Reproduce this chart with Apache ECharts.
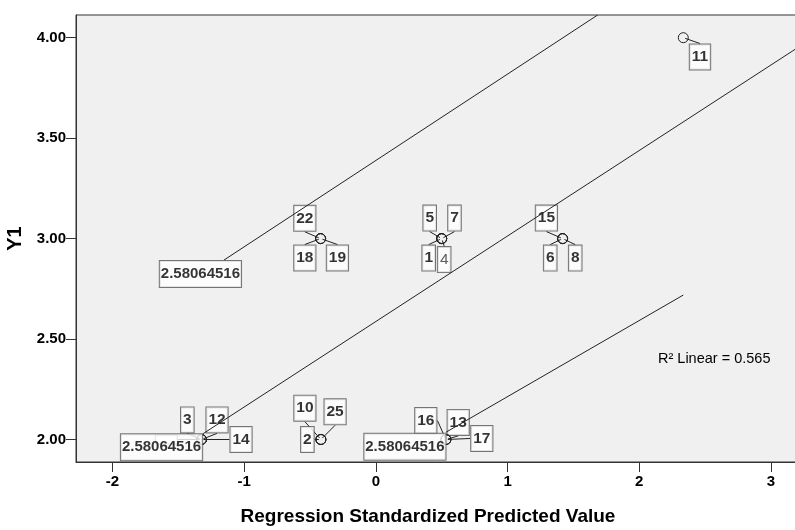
<!DOCTYPE html>
<html>
<head>
<meta charset="utf-8">
<script src="https://cdn.jsdelivr.net/npm/echarts@6/dist/echarts.min.js"></script>
<style>
html,body{margin:0;padding:0;background:#fff;}
#chart{width:795px;height:530px;}
</style>
</head>
<body>
<div id="chart"></div>
<script>
// ---------- data ----------
const caseLabels      = ['22','18','19','5','7','1','4','15','6','8','11','10','25','2','3','12','14','','16','13','17'];
const predictedValues = [-0.419,-0.419,-0.419, 0.500,0.500,0.500,0.500, 1.418,1.418,1.418, 2.334, -0.417,-0.417,-0.417, -1.323,-1.323,-1.323,-1.323, 0.532,0.532,0.532];
const y1Values        = [3,3,3, 3,3,3,3, 3,3,3, 4, 2,2,2, 2,2,2,2, 2,2,2];

const upperLineX = [-1.153, 1.684];
const upperLineY = [2.893, 4.113];
const fitLineX   = [-1.311, 3.22];
const fitLineY   = [2.029, 3.958];
const lowerLineX = [0.532, 2.334];
const lowerLineY = [2.036, 2.719];
const lineLabelText = '2.58064516';

const xTicks = [-2, -1, 0, 1, 2, 3];
const yTicks = [2.0, 2.5, 3.0, 3.5, 4.0];
const xRange = [-2.276, 3.22];
const yRange = [1.888, 4.113];

const xTitle = 'Regression Standardized Predicted Value';
const yTitle = 'Y1';
const r2Text = 'R² Linear = 0.565';

// ---------- layout / style ----------
const FONT = '"Liberation Sans", Arial, sans-serif';
const INK = '#222';
const PLOT_BG = '#F0F0F0';
const pointLabelOffsets = [
  [-15.8,-20.3],[-15.8,19.4],[16.8,19.4],
  [-12,-20.5],[12.8,-20.5],[-13,19.5],[2.5,21],
  [-16.2,-20.5],[-12.4,19.5],[12.6,19.5],
  [16.7,19.3],
  [-16,-31.3],[14.2,-27.7],[-13.5,0],
  [-14.2,-19.6],[15.5,-19.6],[39.5,0],[-35.2,0],
  [-20.1,-19],[12.3,-17.1],[35.9,-1]
];
const lineLabelOffsets = [[-23.5,14],[-41.6,13.5],[-41,14.5]];

const pointData = caseLabels.map((c, i) => {
  const item = { value: [predictedValues[i], y1Values[i]], name: c };
  if (c === '4') item.label = { fontWeight: 'normal', color: '#333' };
  if (c === '') item.label = { width: 17 };
  return item;
});

const pairs = (xs, ys) => xs.map((x, i) => [x, ys[i]]);
const lineStarts = [
  [upperLineX[0], upperLineY[0]],
  [fitLineX[0], fitLineY[0]],
  [lowerLineX[0], lowerLineY[0]]
];

const boxLabel = {
  show: true,
  position: 'inside',
  fontFamily: FONT,
  fontSize: 15.5,
  fontWeight: 'bold',
  color: '#000',
  backgroundColor: '#fff',
  borderColor: '#555',
  borderWidth: 1,
  padding: [5, 2, 3, 2],
  lineHeight: 17
};

const lineSeries = (xs, ys) => ({
  type: 'line',
  data: pairs(xs, ys),
  symbol: 'none',
  silent: true,
  z: 5,
  lineStyle: { color: INK, width: 1 },
  clip: true
});

const chart = echarts.init(document.getElementById('chart'));
chart.setOption({
  animation: false,
  backgroundColor: '#fff',
  grid: {
    left: 76, top: 15, right: -5, bottom: 68,
    containLabel: false, outerBoundsMode: 'none',
    show: true, backgroundColor: PLOT_BG, borderColor: '#333', borderWidth: 1
  },
  xAxis: {
    type: 'value', min: xRange[0], max: xRange[1],
    axisLine: { show: true, onZero: false, lineStyle: { color: '#333', width: 1 } },
    axisTick: { show: true, length: 10, customValues: xTicks, lineStyle: { color: '#333' } },
    axisLabel: {
      customValues: xTicks, margin: 12, fontFamily: FONT, fontSize: 15, fontWeight: 'bold', color: '#000',
      formatter: v => String(v)
    },
    splitLine: { show: false },
    name: xTitle, nameLocation: 'middle', nameGap: 45,
    nameTextStyle: { fontFamily: FONT, fontSize: 19, fontWeight: 'bold', color: '#000', padding: [0, 20, 0, 0] }
  },
  yAxis: {
    type: 'value', min: yRange[0], max: yRange[1],
    axisLine: { show: true, onZero: false, lineStyle: { color: '#333', width: 1 } },
    axisTick: { show: true, length: 10, customValues: yTicks, lineStyle: { color: '#333' } },
    axisLabel: {
      customValues: yTicks, margin: 10, fontFamily: FONT, fontSize: 15, fontWeight: 'bold', color: '#000',
      formatter: v => v.toFixed(2)
    },
    splitLine: { show: false },
    name: yTitle, nameLocation: 'middle', nameGap: 43,
    nameTextStyle: { fontFamily: FONT, fontSize: 20, fontWeight: 'bold', color: '#000' }
  },
  graphic: [{
    type: 'text', left: 658, top: 351, silent: true,
    style: { text: r2Text, fontFamily: FONT, fontSize: 14.5, fontWeight: 'normal', fill: '#000' }
  }],
  series: [
    {
      // case labels with leader lines
      type: 'scatter',
      z: 3,
      data: pointData,
      symbol: 'circle',
      symbolSize: 4,
      itemStyle: { color: 'rgba(0,0,0,0)', borderWidth: 0 },
      label: Object.assign({}, boxLabel, { formatter: p => p.name }),
      labelLine: { show: true, lineStyle: { color: INK, width: 1 } },
      labelLayout: p => {
        const o = pointLabelOffsets[p.dataIndex];
        return { dx: o[0], dy: o[1] };
      },
      silent: true,
      emphasis: { disabled: true }
    },
    {
      // hollow point markers
      type: 'scatter',
      z: 4,
      data: pairs(predictedValues, y1Values),
      symbol: 'circle',
      symbolSize: 10,
      itemStyle: { color: 'none', borderColor: INK, borderWidth: 1, opacity: 1 },
      silent: true,
      emphasis: { disabled: true }
    },
    lineSeries(upperLineX, upperLineY),
    lineSeries(fitLineX, fitLineY),
    lineSeries(lowerLineX, lowerLineY),
    {
      type: 'scatter',
      z: 6,
      data: lineStarts,
      symbolSize: 1,
      itemStyle: { color: 'rgba(0,0,0,0)' },
      label: Object.assign({}, boxLabel, { fontSize: 15, padding: [5, 1, 4, 1], formatter: () => lineLabelText }),
      labelLayout: p => {
        const o = lineLabelOffsets[p.dataIndex];
        return { dx: o[0], dy: o[1] };
      },
      silent: true,
      emphasis: { disabled: true }
    }
  ]
});
</script>
</body>
</html>
